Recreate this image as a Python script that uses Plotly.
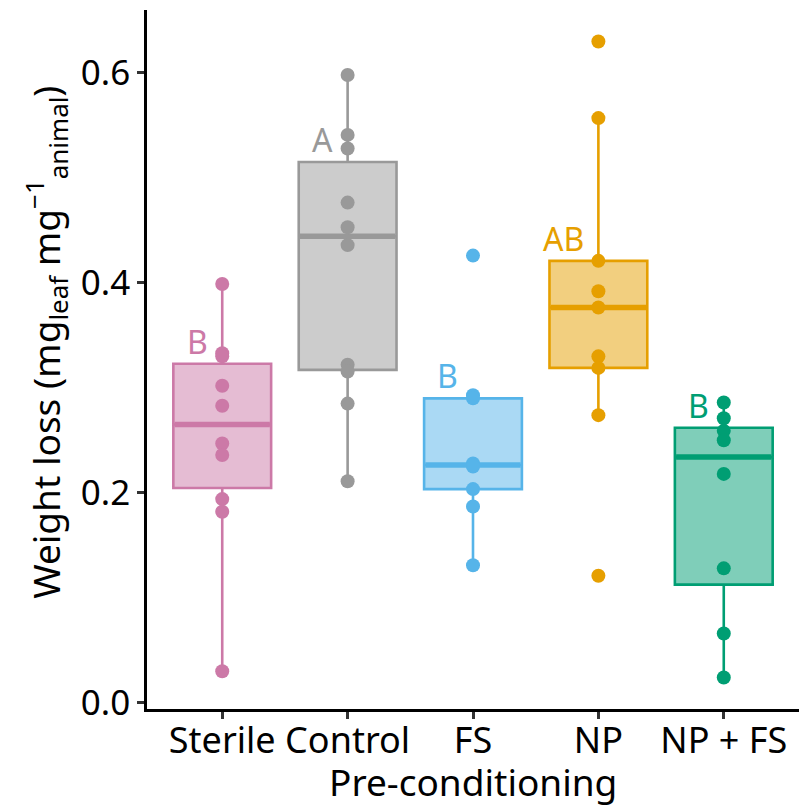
import numpy as np
import plotly.graph_objects as go

categories = ["Sterile", "Control", "FS", "NP", "NP + FS"]
letters = ["B", "A", "B", "AB", "B"]
colors = ["#CC79A7", "#999999", "#56B4E9", "#E69F00", "#009E73"]
fills = ["rgba(204,121,167,0.5)", "rgba(153,153,153,0.5)", "rgba(86,180,233,0.5)",
         "rgba(230,159,0,0.5)", "rgba(0,158,115,0.5)"]

sterile = [0.399, 0.333, 0.330, 0.302, 0.283, 0.247, 0.236, 0.194, 0.182, 0.030]
control = [0.598, 0.541, 0.528, 0.4765, 0.453, 0.436, 0.322, 0.3155, 0.285, 0.211]
fs = [0.426, 0.293, 0.290, 0.228, 0.2265, 0.225, 0.2035, 0.187, 0.131]
np_ = [0.630, 0.557, 0.421, 0.392, 0.3765, 0.330, 0.319, 0.274, 0.121]
np_fs = [0.286, 0.271, 0.259, 0.250, 0.218, 0.128, 0.066, 0.024]
series = [sterile, control, fs, np_, np_fs]

y_ticks = [0.0, 0.2, 0.4, 0.6]
y_range = [-0.006, 0.66]

FONT = "Noto Sans"
BOXW = 0.78

fig = go.Figure()

for i, (cat, vals, col, fc, let) in enumerate(zip(categories, series, colors, fills, letters)):
    v = np.array(vals)
    q1, med, q3 = np.percentile(v, [25, 50, 75])
    iqr = q3 - q1
    lo = v[v >= q1 - 1.5 * iqr].min()
    hi = v[v <= q3 + 1.5 * iqr].max()
    fig.add_trace(go.Box(
        x=[i], q1=[q1], median=[med], q3=[q3], lowerfence=[lo], upperfence=[hi],
        width=BOXW, whiskerwidth=0, fillcolor=fc,
        line=dict(color=col, width=2.6), boxpoints=False, showlegend=False,
        hoverinfo="skip",
    ))
    fig.add_trace(go.Scatter(
        x=[i - BOXW / 2 + 0.01, i + BOXW / 2 - 0.01], y=[med, med], mode="lines",
        line=dict(color=col, width=5.5), showlegend=False, hoverinfo="skip",
    ))
    fig.add_trace(go.Scatter(
        x=[i] * len(vals), y=vals, mode="markers",
        marker=dict(color=col, size=14, line=dict(width=0)),
        showlegend=False,
    ))
    fig.add_annotation(
        x=i - 0.1, y=q3, xref="x", yref="y", text=let, showarrow=False,
        xanchor="right", yanchor="bottom", yshift=-1,
        font=dict(family=FONT, size=32, color=col),
    )

# axis titles
fig.add_annotation(
    x=0.5, y=0, xref="paper", yref="paper", text="Pre-conditioning",
    showarrow=False, xanchor="center", yanchor="middle", yshift=-72,
    font=dict(family=FONT, size=37, color="black"),
)
fig.add_annotation(
    x=0, y=0.524, xref="paper", yref="paper",
    text="Weight loss (mg<sub>leaf</sub> mg<sup>−1</sup><sub>animal</sub>)",
    showarrow=False, textangle=-90, xanchor="center", yanchor="middle", xshift=-101,
    font=dict(family=FONT, size=37, color="black"),
)

fig.update_layout(
    width=799, height=810,
    margin=dict(l=147, r=0, t=10, b=101),
    paper_bgcolor="white", plot_bgcolor="white",
    font=dict(family=FONT, size=35, color="black"),
    xaxis=dict(
        range=[-0.6, 4.6], tickmode="array", tickvals=list(range(len(categories))),
        ticktext=categories, showgrid=False, zeroline=False,
        showline=True, linecolor="black", linewidth=2.5,
        ticks="outside", ticklen=7, tickwidth=2.5, tickcolor="#333333",
        ticklabelstandoff=-9,
        tickfont=dict(family=FONT, size=36, color="black"),
    ),
    yaxis=dict(
        range=y_range, tickmode="array", tickvals=y_ticks,
        ticktext=[f"{t:.1f}" for t in y_ticks], showgrid=False, zeroline=False,
        showline=True, linecolor="black", linewidth=2.5,
        ticks="outside", ticklen=7, tickwidth=2.5, tickcolor="#333333",
        tickfont=dict(family=FONT, size=35, color="black"),
    ),
)

fig.write_html("out.html")
